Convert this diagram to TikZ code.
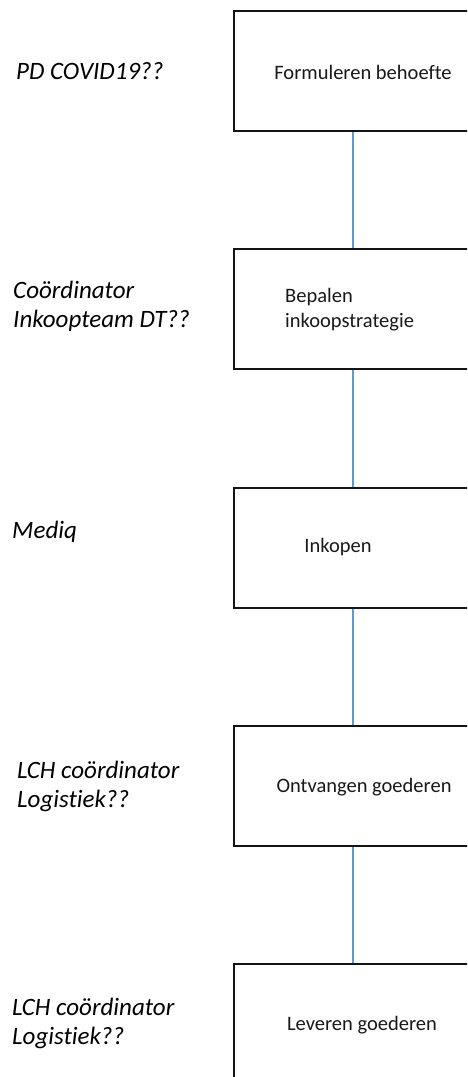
\documentclass[tikz,border=0pt]{standalone}
\usepackage{fontspec}
\setmainfont{Carlito}[RawFeature={-liga;-dlig;-clig}]
\definecolor{linkblue}{HTML}{5B9BD5}
\definecolor{boxline}{HTML}{141414}
\begin{document}
\begin{tikzpicture}[x=1pt,y=-1pt,
  stagebox/.style={draw=boxline,line width=2pt,minimum width=238pt,minimum height=120pt,anchor=north west,inner sep=0pt},
  boxtext/.style={font=\fontsize{20.5}{25}\selectfont,inner sep=0pt,text=black!90},
  roletext/.style={font=\fontsize{25}{29}\selectfont\itshape,inner sep=0pt,anchor=west,align=left,text=black},
  link/.style={draw=linkblue,line width=1.2pt}]
\useasboundingbox (0,0) rectangle (467,1077);
\clip (0,0) rectangle (467,1077);
\fill[white] (0,0) rectangle (467,1077);
% boxes
\node[stagebox] (b1) at (233,10) {};
\node[stagebox] (b2) at (233,248) {};
\node[stagebox] (b3) at (233,487) {};
\node[stagebox] (b4) at (233,725) {};
\node[stagebox] (b5) at (233,963) {};
% box texts
\node[boxtext] (t1) at (363,72) {Formuleren behoefte};
\node[boxtext,anchor=west,align=left] (t2) at (285,310) {Bepalen\\inkoopstrategie};
\node[boxtext] (t3) at (338,547) {Inkopen};
\node[boxtext] (t4) at (364,787) {Ontvangen goederen};
\node[boxtext] (t5) at (362,1025) {Leveren goederen};
% role labels
\node[roletext] (l1) at (16,71) {PD COVID19??};
\node[roletext] (l2) at (13,306) {Coördinator\\Inkoopteam DT??};
\node[roletext] (l3) at (12,532) {Mediq};
\node[roletext] (l4) at (17,786) {LCH coördinator\\Logistiek??};
\node[roletext] (l5) at (12,1023) {LCH coördinator\\Logistiek??};
% connectors
\draw[link] (b1.south) -- (b2.north);
\draw[link] (b2.south) -- (b3.north);
\draw[link] (b3.south) -- (b4.north);
\draw[link] (b4.south) -- (b5.north);
\end{tikzpicture}
\end{document}
